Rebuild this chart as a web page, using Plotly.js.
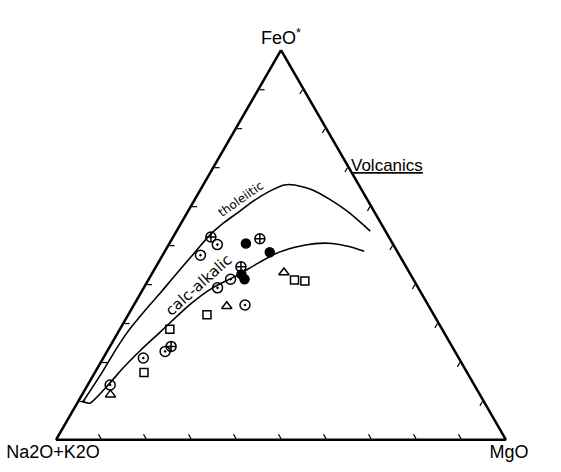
<!DOCTYPE html>
<html><head><meta charset="utf-8">
<script src="https://cdn.plot.ly/plotly-3.0.1.min.js"></script>
<style>html,body{margin:0;padding:0;background:#fff}</style>
</head><body>
<div id="chart" style="width:561px;height:472px"></div>
<script>
// AFM diagram: a = FeO*, b = Na2O+K2O, c = MgO (percent)
const axisLabels = {a: 'FeO<sup>*</sup>', b: 'Na2O+K2O', c: 'MgO'};

// tholeiitic / calc-alkalic boundary curves
const tholA = [9.6, 17.3, 23.0, 27.9, 33.3, 37.5, 42.0, 47.7, 52.6, 55.8, 58.5, 61.0, 63.7, 65.4, 65.4, 64.2, 61.7, 58.5, 55.6, 53.6];
const tholB = [89.3, 81.1, 75.4, 70.0, 63.4, 58.1, 52.7, 45.6, 39.6, 34.7, 30.1, 26.0, 21.0, 16.6, 14.3, 11.0, 8.3, 5.9, 4.3, 3.4];
const tholC = [1.1, 1.6, 1.7, 2.1, 3.2, 4.3, 5.3, 6.7, 7.9, 9.5, 11.4, 13.0, 15.4, 18.0, 20.3, 24.8, 30.0, 35.4, 40.2, 43.1];

const calcA = [9.9, 9.4, 14.3, 18.5, 23.0, 27.4, 31.9, 34.6, 39.0, 42.0, 44.9, 47.7, 49.4, 50.4, 50.4, 49.6, 48.4];
const calcB = [89.2, 87.8, 81.1, 75.8, 69.7, 63.4, 57.1, 53.1, 45.7, 39.2, 33.3, 27.5, 22.2, 17.3, 13.4, 10.1, 7.3];
const calcC = [0.9, 2.8, 4.6, 5.7, 7.3, 9.2, 11.1, 12.3, 15.3, 18.9, 21.8, 24.8, 28.4, 32.4, 36.2, 40.3, 44.3];

// sample groups
const ringA = [14.1, 21.0, 22.7, 34.6, 39.0, 41.2, 47.4, 50.1];
const ringB = [81.0, 70.1, 64.4, 40.7, 44.6, 40.6, 44.2, 39.1];
const ringC = [5.0, 8.9, 12.9, 24.7, 16.4, 18.2, 8.4, 10.8];

const crossA = [24.0, 44.4, 52.1, 51.6];
const crossB = [62.5, 36.7, 39.6, 28.9];
const crossC = [13.6, 18.9, 8.4, 19.5];

const solidA = [42.5, 41.2, 50.4, 48.1];
const solidB = [37.6, 37.5, 32.6, 28.4];
const solidC = [20.0, 21.3, 17.0, 23.4];

const squareA = [17.3, 28.4, 32.1, 41.0, 40.7];
const squareB = [71.8, 60.5, 50.4, 26.5, 24.3];
const squareC = [10.9, 11.1, 17.5, 32.5, 34.9];

const triA = [11.6, 34.3, 43.0];
const triB = [82.1, 44.9, 27.9];
const triC = [6.3, 20.8, 29.2];

const lineStyle = {color: '#000', width: 1.6, shape: 'spline', smoothing: 0.6};
function curve(a, b, c) {
  return {type: 'scatterternary', mode: 'lines', a: a, b: b, c: c, line: lineStyle, hoverinfo: 'skip'};
}
function pts(a, b, c, symbol, size) {
  return {type: 'scatterternary', mode: 'markers', a: a, b: b, c: c, hoverinfo: 'skip',
    marker: {symbol: symbol, size: size, color: '#000', line: {color: '#000', width: 1.5}}};
}

const traces = [
  curve(tholA, tholB, tholC),
  curve(calcA, calcB, calcC),
  pts(ringA, ringB, ringC, 'circle-open-dot', 10),
  pts(crossA, crossB, crossC, 'circle-cross-open', 10),
  pts(solidA, solidB, solidC, 'circle', 9),
  pts(squareA, squareB, squareC, 'square-open', 8),
  pts(triA, triB, triC, 'triangle-up-open', 9)
];

function axis(label) {
  return {
    title: {text: label, font: {family: 'Liberation Sans, Arial, sans-serif', size: 18, color: '#000'}},
    min: 0, showgrid: false, showticklabels: false,
    ticks: 'inside', ticklen: 5, tickwidth: 1.2, tickcolor: '#000', dtick: 10,
    linecolor: '#000', linewidth: 2.5
  };
}

const W = 561, H = 472;
const layout = {
  width: W, height: H,
  margin: {l: 0, r: 0, t: 0, b: 0},
  paper_bgcolor: '#fff',
  showlegend: false,
  ternary: {
    sum: 100,
    domain: {x: [56 / W, 506 / W], y: [(H - 440) / H, (H - 50) / H]},
    bgcolor: '#fff',
    aaxis: axis(axisLabels.a),
    baxis: axis(axisLabels.b),
    caxis: axis(axisLabels.c)
  },
  annotations: [
    {text: 'tholeiitic', x: 241 / W, y: 1 - 199 / H, xref: 'paper', yref: 'paper', showarrow: false,
     textangle: -35, font: {family: 'DejaVu Sans', size: 12, color: '#000'}},
    {text: 'calc-alkalic', x: 159 / W, y: 1 - 322 / H, xref: 'paper', yref: 'paper', showarrow: false,
     textangle: -42, font: {family: 'DejaVu Sans', size: 15, color: '#000'}},
    {text: '<span style="text-decoration:underline">Volcanics</span>', x: 425 / W, y: 1 - 154 / H,
     xref: 'paper', yref: 'paper', showarrow: false,
     font: {family: 'Liberation Sans, Arial, sans-serif', size: 17, color: '#000'}}
  ]
};

Plotly.newPlot('chart', traces, layout, {staticPlot: true, displayModeBar: false});
</script>
</body></html>
